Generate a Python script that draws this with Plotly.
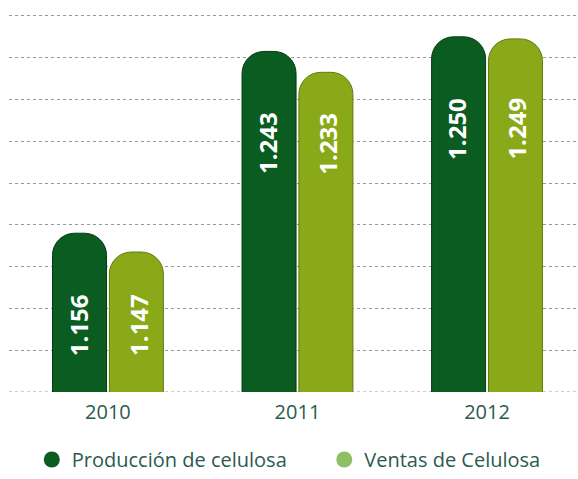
import plotly.graph_objects as go

years = ["2010", "2011", "2012"]
produccion = [1.156, 1.243, 1.250]
ventas = [1.147, 1.233, 1.249]
prod_labels = ["1.156", "1.243", "1.250"]
vent_labels = ["1.147", "1.233", "1.249"]

c_prod = "#0a5c20"
c_vent = "#8aa918"
c_prod_leg = "#0a5c20"
c_vent_leg = "#8cc063"

x = list(range(len(years)))
fig = go.Figure()
fig.add_bar(x=x, y=produccion, marker=dict(color=c_prod, line=dict(color="#053a12", width=1), cornerradius=22),
            showlegend=False, hoverinfo="skip")
fig.add_bar(x=x, y=ventas, marker=dict(color=c_vent, line=dict(color="#5f7a0c", width=1), cornerradius=22),
            showlegend=False, hoverinfo="skip")
fig.add_scatter(x=[None], y=[None], mode="markers", name="Producción de celulosa", legend="legend",
                marker=dict(color=c_prod_leg, size=16, symbol="circle"))
fig.add_scatter(x=[None], y=[None], mode="markers", name="Ventas de Celulosa", legend="legend2",
                marker=dict(color=c_vent_leg, size=16, symbol="circle"))

annotations = []
for i in x:
    ty = max(produccion[i], ventas[i]) - 0.044
    for lab, dx in [(prod_labels[i], -0.1575), (vent_labels[i], 0.1575)]:
        annotations.append(dict(x=i + dx, y=ty, xref="x", yref="y", text=lab, textangle=-90,
                                showarrow=False, font=dict(family="Open Sans", size=24, color="white", weight="bold")))

leg_common = dict(orientation="h", xanchor="left", xref="container", yref="container",
                  y=0.0, yanchor="bottom", itemwidth=30,
                  font=dict(family="Open Sans", size=20, color="#2c5a50"))

fig.update_layout(
    width=578, height=479,
    margin=dict(l=9, r=0, t=4, b=87),
    paper_bgcolor="white", plot_bgcolor="white",
    barmode="group", bargap=0.4, bargroupgap=0.05,
    xaxis=dict(range=[-0.522, 2.48], tickvals=x, ticktext=years, showgrid=False, zeroline=False,
               ticks="", ticklabelstandoff=6,
               tickfont=dict(family="Open Sans", size=20, color="#2c5a50")),
    yaxis=dict(range=[1.08, 1.2657], dtick=0.02, tick0=1.08, showgrid=True, gridcolor="#9a9a9a",
               griddash="dot", gridwidth=1, showticklabels=False, zeroline=False),
    legend=dict(x=0.055, **leg_common),
    legend2=dict(x=0.561, **leg_common),
    annotations=annotations,
)
fig.add_shape(type="line", xref="paper", yref="y", x0=0, x1=1, y0=1.08, y1=1.08,
              line=dict(color="#9a9a9a", width=1, dash="dot"), layer="below")
fig.write_html("out.html")
